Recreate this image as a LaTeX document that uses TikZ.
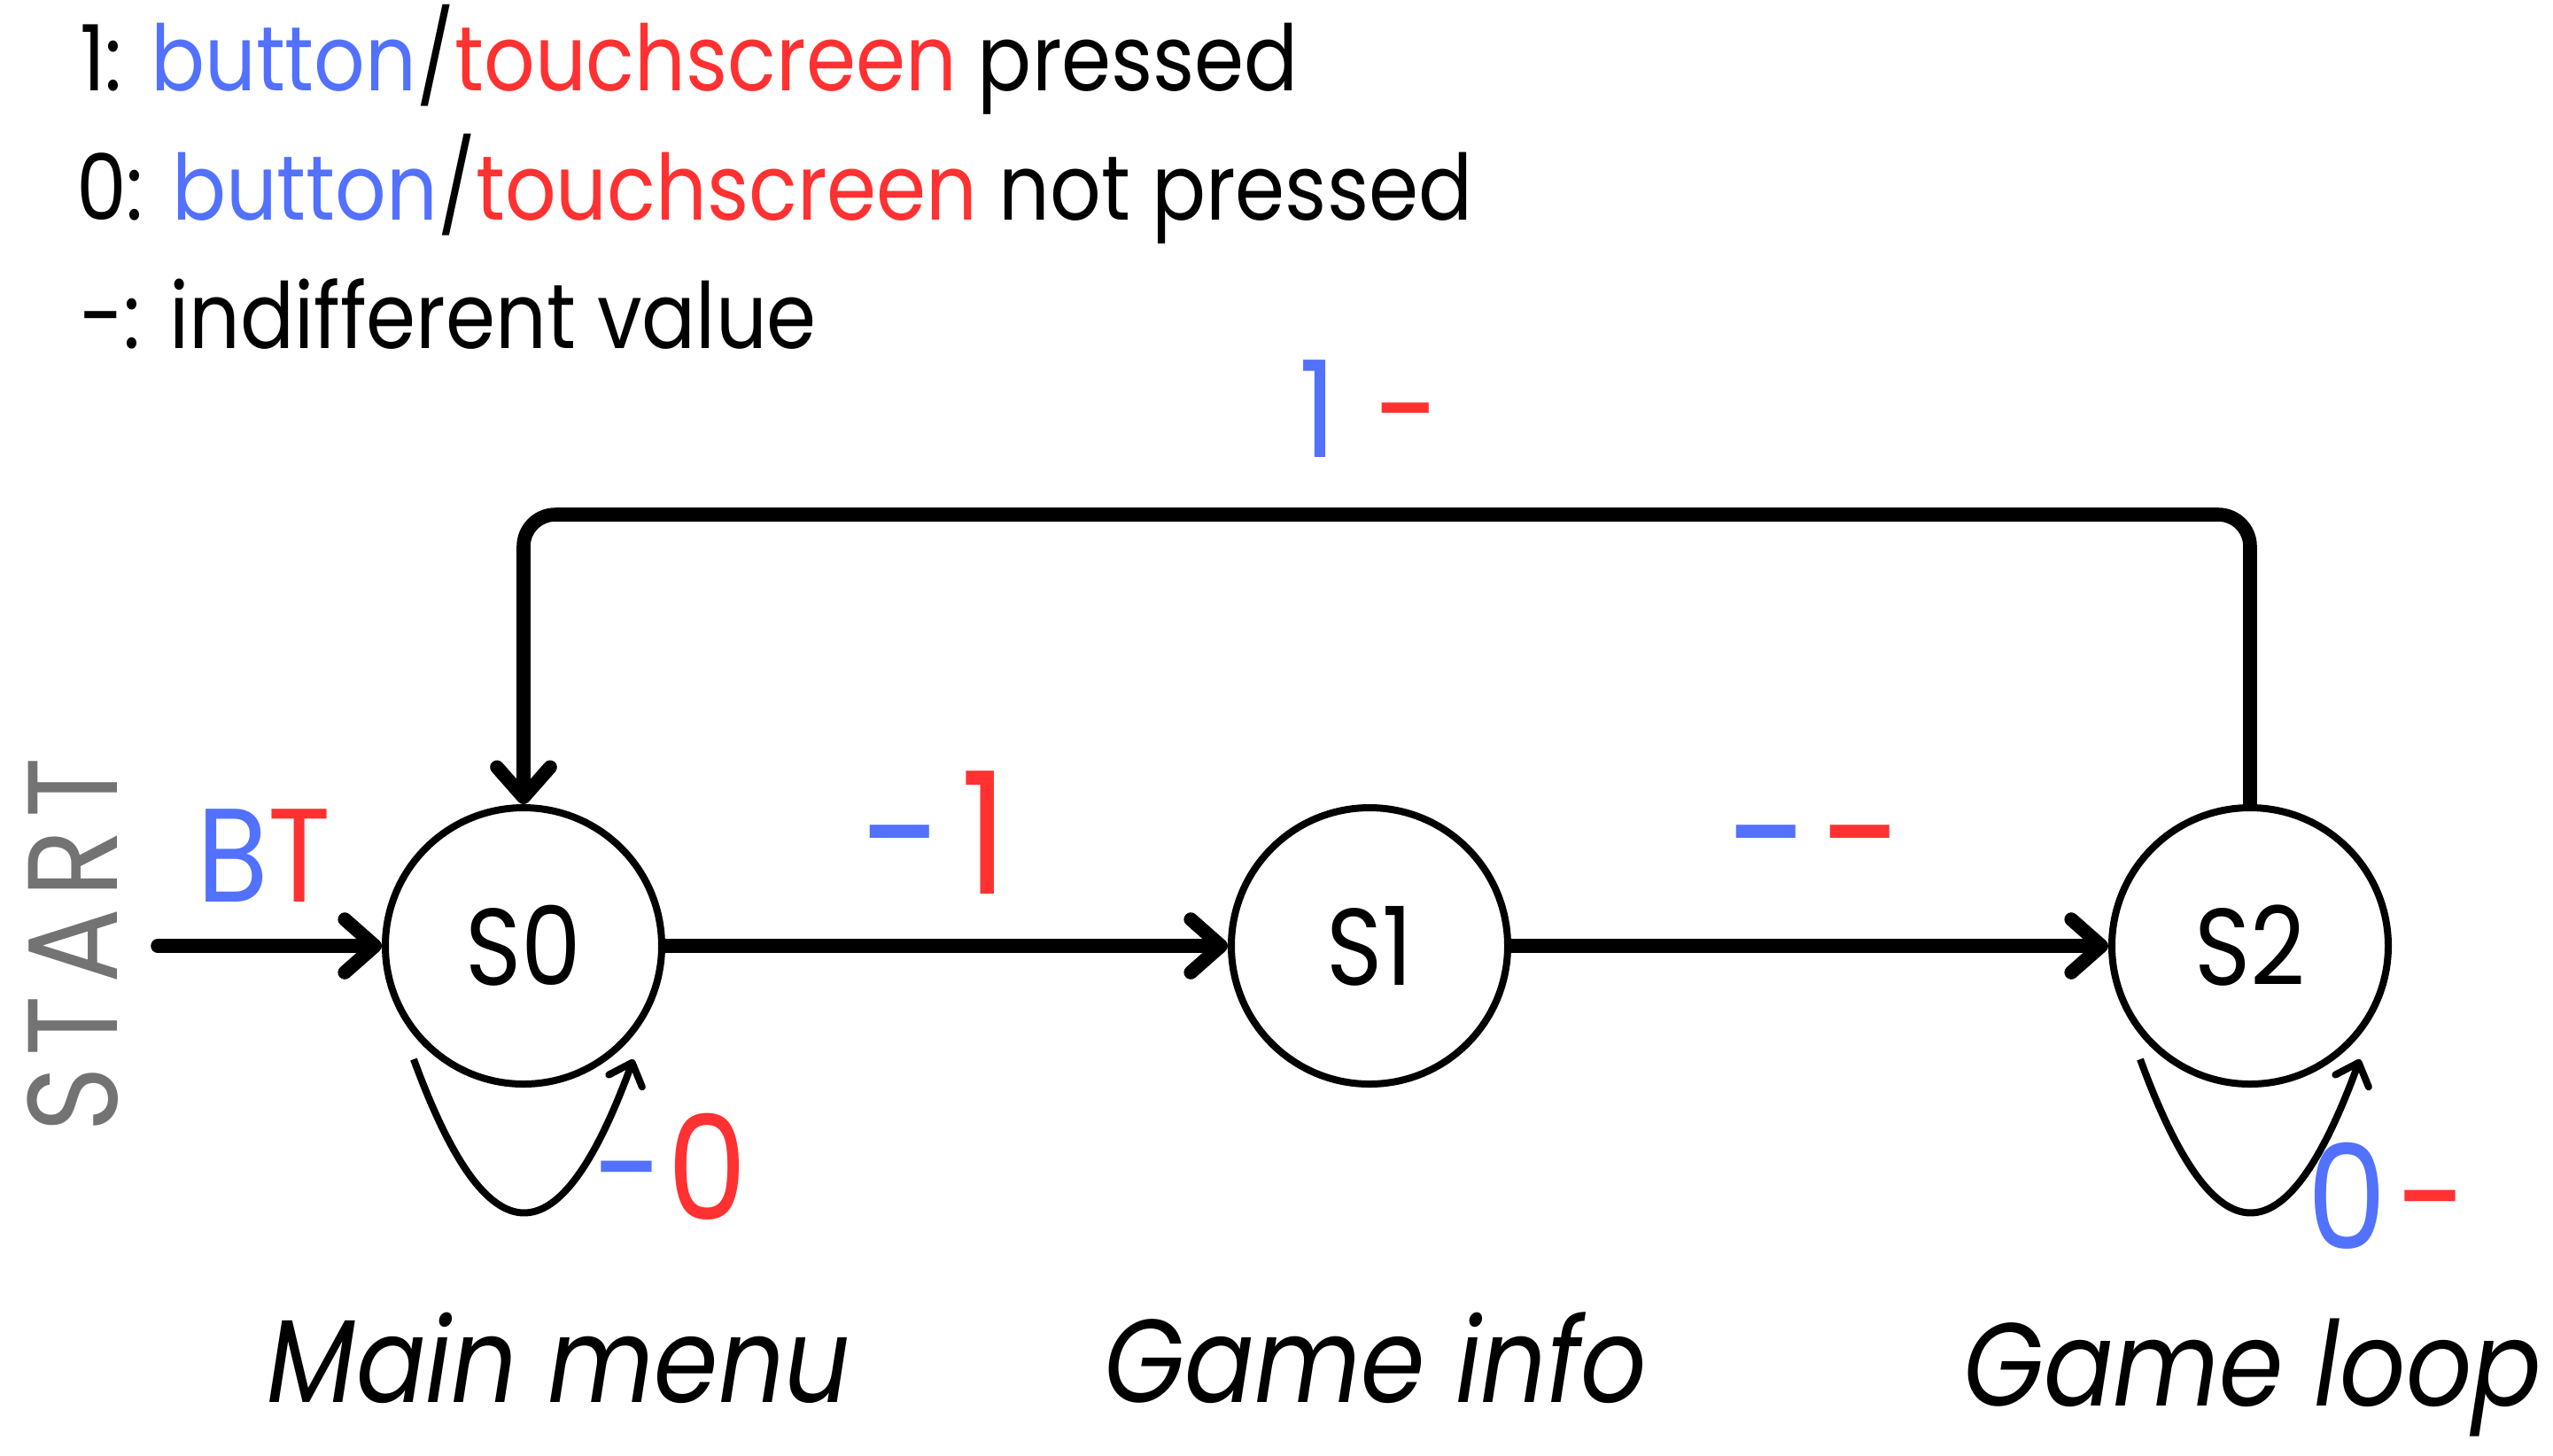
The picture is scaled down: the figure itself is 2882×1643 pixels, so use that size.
\documentclass[tikz,border=0pt]{standalone}
\usepackage{fontspec}
\setmainfont{Poppins}[FakeStretch=0.875]
\usetikzlibrary{arrows.meta,calc}
\definecolor{cblue}{HTML}{5271FF}
\definecolor{cred}{HTML}{FF3131}
\definecolor{cgray}{HTML}{737373}
\newcommand{\fsz}[1]{\fontsize{#1}{#1}\selectfont}
\begin{document}
\begin{tikzpicture}[x=0.25pt,y=-0.25pt,
  state/.style={circle,draw,line width=2pt,minimum size=78pt,inner sep=0pt,font=\fsz{30.8}},
  trans/.style={line width=3.9pt,line cap=round,-{Straight Barb[length=8.5pt,width=15pt,round]}},
  loopedge/.style={line width=2pt,-{Straight Barb[length=5.5pt,width=10pt,round]}},
  txt/.style={inner sep=0pt,outer sep=0pt}]
\useasboundingbox (0,0) rectangle (2882,1643);

% legend
\node[txt,anchor=base west,font=\fsz{25.8}] (leg1) at (90,102) {1: \textcolor{cblue}{button}/\textcolor{cred}{touchscreen} pressed};
\node[txt,anchor=base west,font=\fsz{25.8}] (leg2) at (86,248) {0: \textcolor{cblue}{button}/\textcolor{cred}{touchscreen} not pressed};
\node[txt,anchor=base west,font=\fsz{25.8}] (leg3) at (90,393) {-: indifferent value};

% states
\node[state] (s0) at (591,1068) {S0};
\node[state] (s1) at (1546,1068) {S1};
\node[state] (s2) at (2540,1068) {S2};

% start
\node[txt,rotate=90,font=\fsz{36}\addfontfeature{LetterSpace=9},text=cgray] (start) at (82,1067) {START};
\coordinate (st) at (178,1068);
\draw[trans] (st) -- (s0);
\node[txt,anchor=base west,font=\fsz{37.6}] (lbt) at (222,1018) {\textcolor{cblue}{B}\textcolor{cred}{T}};

% transitions
\draw[trans] (s0) -- (s1);
\draw[trans] (s1) -- (s2);
\draw[trans,rounded corners=9pt] (s2.north) -- ++(0,-327) -| (s0.north);

% self loops
\draw[loopedge] ($(s0)+(-124,128)$) .. controls ($(s0)+(-40,358)$) and ($(s0)+(40,358)$) .. ($(s0)+(124,128)$);
\draw[loopedge] ($(s2)+(-124,128)$) .. controls ($(s2)+(-40,358)$) and ($(s2)+(40,358)$) .. ($(s2)+(124,128)$);

% transition labels
\node[txt,anchor=base west,font=\fsz{41}] (l00) at (670,1377) {\textcolor{cblue}{-}\hspace{1pt}\textcolor{cred}{0}};
\node[txt,anchor=base west,font=\fsz{48}] (l01) at (972,1009) {\textcolor{cblue}{-}\hspace{5pt}\textcolor{cred}{1}};
\node[txt,anchor=base west,font=\fsz{48}] (l12) at (1950,1009) {\textcolor{cblue}{-}\hspace{3.5pt}\textcolor{cred}{-}};
\node[txt,anchor=base west,font=\fsz{38}] (l20) at (1466,516) {\textcolor{cblue}{1}\hspace{11pt}\textcolor{cred}{-}};
\node[txt,anchor=base west,font=\fsz{41}] (l22) at (2604,1410) {\textcolor{cblue}{0}\hspace{3pt}\textcolor{cred}{-}};

% state names
\node[txt,anchor=base,font=\fsz{33.3}\itshape] (n0) at (631,1583) {Main menu};
\node[txt,anchor=base,font=\fsz{33.3}\itshape] (n1) at (1553,1583) {Game info};
\node[txt,anchor=base,font=\fsz{33.3}\itshape] (n2) at (2543,1587) {Game loop};
\end{tikzpicture}
\end{document}
